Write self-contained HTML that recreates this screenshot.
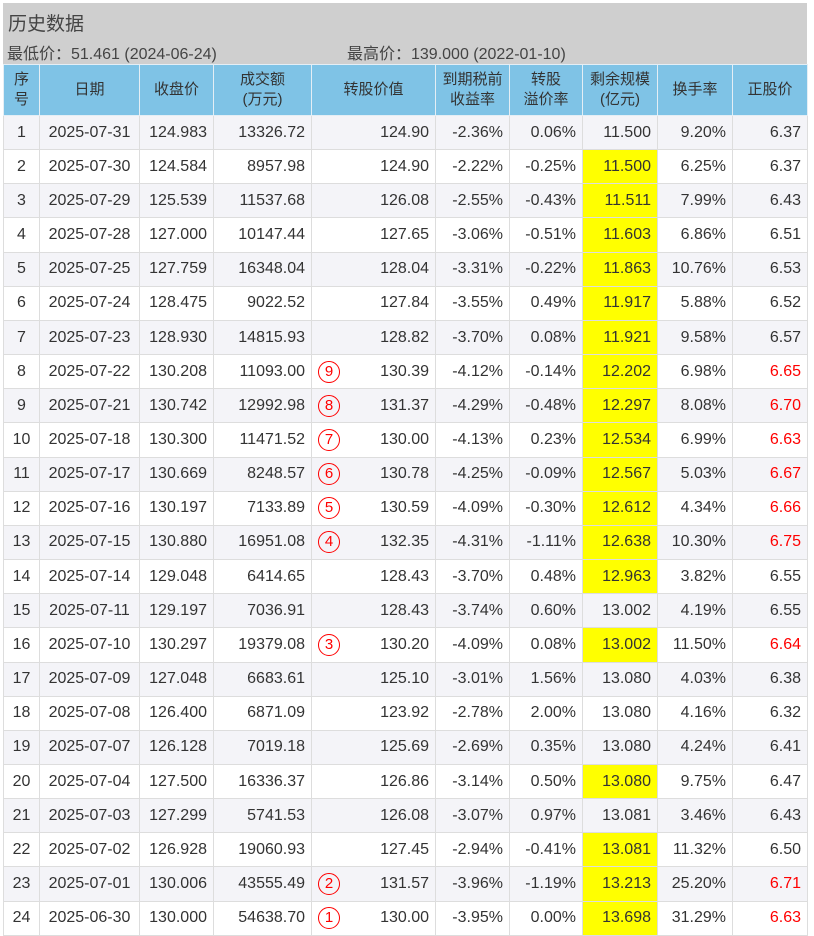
<!DOCTYPE html>
<html><head><meta charset="utf-8"><style>
body{margin:0;background:#fff;width:814px;height:935px;overflow:hidden;font-family:"Liberation Sans","Noto Sans CJK SC",sans-serif;color:#333}
.top{position:absolute;left:3px;top:3px;width:804px;height:62px;background:#cfcfcf}
.t1{position:absolute;left:8px;top:9px;font-size:19px;color:#444}
.t2{position:absolute;left:7px;top:40px;font-size:16px;color:#444}
.t3{position:absolute;left:347px;top:40px;font-size:16px;color:#444}
table{position:absolute;left:3px;top:64px;border-collapse:collapse;table-layout:fixed;width:804px;font-size:16px}
td,th{border:1px solid #ddd;padding:0 6px;white-space:nowrap;overflow:hidden}
th{background:#7fc3e6;font-weight:normal;font-size:15px;line-height:20px;height:50px;color:#333;border-color:#e4eef5}
tbody tr{height:34.17px}
tbody tr:nth-child(odd){background:#f4f4f8}
td{text-align:right;position:relative}
td.c{text-align:center}
td.y{background:#ffff00}
td.r{color:#f00}
.ci{position:absolute;left:6px;top:50%;margin-top:-11px;width:20px;height:20px;border:1px solid #f00;border-radius:50%;color:#f00;text-align:center;line-height:20px;font-size:15px}
</style></head><body>
<div class="top"></div>
<div class="t1">历史数据</div>
<div class="t2">最低价：51.461 (2024-06-24)</div>
<div class="t3">最高价：139.000 (2022-01-10)</div>
<table>
<colgroup><col style="width:36px"><col style="width:100px"><col style="width:74px"><col style="width:98px"><col style="width:124px"><col style="width:74px"><col style="width:73px"><col style="width:75px"><col style="width:75px"><col style="width:75px"></colgroup>
<thead><tr><th>序<br>号</th><th>日期</th><th>收盘价</th><th>成交额<br>(万元)</th><th>转股价值</th><th>到期税前<br>收益率</th><th>转股<br>溢价率</th><th>剩余规模<br>(亿元)</th><th>换手率</th><th>正股价</th></tr></thead>
<tbody>
<tr><td class="c">1</td><td class="c">2025-07-31</td><td>124.983</td><td>13326.72</td><td>124.90</td><td>-2.36%</td><td>0.06%</td><td>11.500</td><td>9.20%</td><td>6.37</td></tr>
<tr><td class="c">2</td><td class="c">2025-07-30</td><td>124.584</td><td>8957.98</td><td>124.90</td><td>-2.22%</td><td>-0.25%</td><td class="y">11.500</td><td>6.25%</td><td>6.37</td></tr>
<tr><td class="c">3</td><td class="c">2025-07-29</td><td>125.539</td><td>11537.68</td><td>126.08</td><td>-2.55%</td><td>-0.43%</td><td class="y">11.511</td><td>7.99%</td><td>6.43</td></tr>
<tr><td class="c">4</td><td class="c">2025-07-28</td><td>127.000</td><td>10147.44</td><td>127.65</td><td>-3.06%</td><td>-0.51%</td><td class="y">11.603</td><td>6.86%</td><td>6.51</td></tr>
<tr><td class="c">5</td><td class="c">2025-07-25</td><td>127.759</td><td>16348.04</td><td>128.04</td><td>-3.31%</td><td>-0.22%</td><td class="y">11.863</td><td>10.76%</td><td>6.53</td></tr>
<tr><td class="c">6</td><td class="c">2025-07-24</td><td>128.475</td><td>9022.52</td><td>127.84</td><td>-3.55%</td><td>0.49%</td><td class="y">11.917</td><td>5.88%</td><td>6.52</td></tr>
<tr><td class="c">7</td><td class="c">2025-07-23</td><td>128.930</td><td>14815.93</td><td>128.82</td><td>-3.70%</td><td>0.08%</td><td class="y">11.921</td><td>9.58%</td><td>6.57</td></tr>
<tr><td class="c">8</td><td class="c">2025-07-22</td><td>130.208</td><td>11093.00</td><td><span class="ci">9</span>130.39</td><td>-4.12%</td><td>-0.14%</td><td class="y">12.202</td><td>6.98%</td><td class="r">6.65</td></tr>
<tr><td class="c">9</td><td class="c">2025-07-21</td><td>130.742</td><td>12992.98</td><td><span class="ci">8</span>131.37</td><td>-4.29%</td><td>-0.48%</td><td class="y">12.297</td><td>8.08%</td><td class="r">6.70</td></tr>
<tr><td class="c">10</td><td class="c">2025-07-18</td><td>130.300</td><td>11471.52</td><td><span class="ci">7</span>130.00</td><td>-4.13%</td><td>0.23%</td><td class="y">12.534</td><td>6.99%</td><td class="r">6.63</td></tr>
<tr><td class="c">11</td><td class="c">2025-07-17</td><td>130.669</td><td>8248.57</td><td><span class="ci">6</span>130.78</td><td>-4.25%</td><td>-0.09%</td><td class="y">12.567</td><td>5.03%</td><td class="r">6.67</td></tr>
<tr><td class="c">12</td><td class="c">2025-07-16</td><td>130.197</td><td>7133.89</td><td><span class="ci">5</span>130.59</td><td>-4.09%</td><td>-0.30%</td><td class="y">12.612</td><td>4.34%</td><td class="r">6.66</td></tr>
<tr><td class="c">13</td><td class="c">2025-07-15</td><td>130.880</td><td>16951.08</td><td><span class="ci">4</span>132.35</td><td>-4.31%</td><td>-1.11%</td><td class="y">12.638</td><td>10.30%</td><td class="r">6.75</td></tr>
<tr><td class="c">14</td><td class="c">2025-07-14</td><td>129.048</td><td>6414.65</td><td>128.43</td><td>-3.70%</td><td>0.48%</td><td class="y">12.963</td><td>3.82%</td><td>6.55</td></tr>
<tr><td class="c">15</td><td class="c">2025-07-11</td><td>129.197</td><td>7036.91</td><td>128.43</td><td>-3.74%</td><td>0.60%</td><td>13.002</td><td>4.19%</td><td>6.55</td></tr>
<tr><td class="c">16</td><td class="c">2025-07-10</td><td>130.297</td><td>19379.08</td><td><span class="ci">3</span>130.20</td><td>-4.09%</td><td>0.08%</td><td class="y">13.002</td><td>11.50%</td><td class="r">6.64</td></tr>
<tr><td class="c">17</td><td class="c">2025-07-09</td><td>127.048</td><td>6683.61</td><td>125.10</td><td>-3.01%</td><td>1.56%</td><td>13.080</td><td>4.03%</td><td>6.38</td></tr>
<tr><td class="c">18</td><td class="c">2025-07-08</td><td>126.400</td><td>6871.09</td><td>123.92</td><td>-2.78%</td><td>2.00%</td><td>13.080</td><td>4.16%</td><td>6.32</td></tr>
<tr><td class="c">19</td><td class="c">2025-07-07</td><td>126.128</td><td>7019.18</td><td>125.69</td><td>-2.69%</td><td>0.35%</td><td>13.080</td><td>4.24%</td><td>6.41</td></tr>
<tr><td class="c">20</td><td class="c">2025-07-04</td><td>127.500</td><td>16336.37</td><td>126.86</td><td>-3.14%</td><td>0.50%</td><td class="y">13.080</td><td>9.75%</td><td>6.47</td></tr>
<tr><td class="c">21</td><td class="c">2025-07-03</td><td>127.299</td><td>5741.53</td><td>126.08</td><td>-3.07%</td><td>0.97%</td><td>13.081</td><td>3.46%</td><td>6.43</td></tr>
<tr><td class="c">22</td><td class="c">2025-07-02</td><td>126.928</td><td>19060.93</td><td>127.45</td><td>-2.94%</td><td>-0.41%</td><td class="y">13.081</td><td>11.32%</td><td>6.50</td></tr>
<tr><td class="c">23</td><td class="c">2025-07-01</td><td>130.006</td><td>43555.49</td><td><span class="ci">2</span>131.57</td><td>-3.96%</td><td>-1.19%</td><td class="y">13.213</td><td>25.20%</td><td class="r">6.71</td></tr>
<tr><td class="c">24</td><td class="c">2025-06-30</td><td>130.000</td><td>54638.70</td><td><span class="ci">1</span>130.00</td><td>-3.95%</td><td>0.00%</td><td class="y">13.698</td><td>31.29%</td><td class="r">6.63</td></tr>
</tbody></table>
</body></html>
